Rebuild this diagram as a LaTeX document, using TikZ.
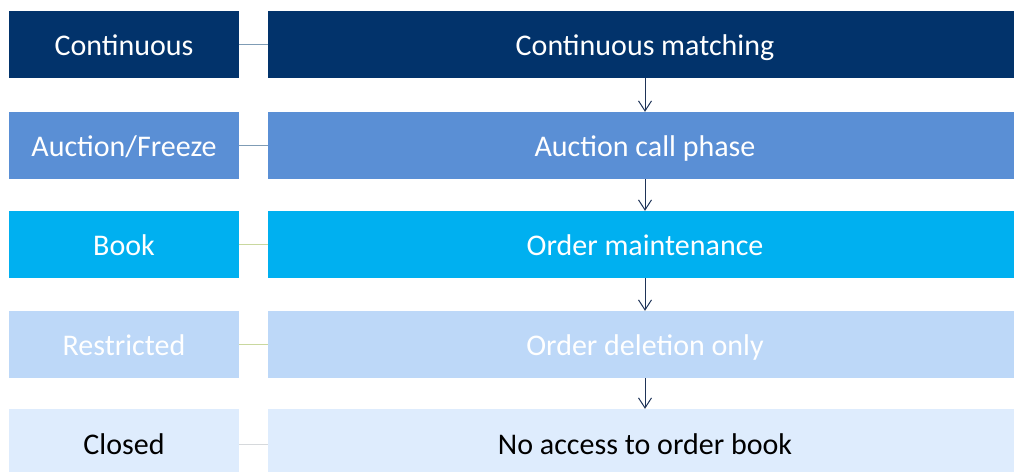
\documentclass[tikz,border=0pt]{standalone}
\usepackage{fontspec}
\setmainfont{Carlito}
\usetikzlibrary{arrows.meta}
\definecolor{cA}{HTML}{02336B}
\definecolor{cB}{HTML}{5A8FD5}
\definecolor{cC}{HTML}{00B0F0}
\definecolor{cD}{HTML}{BDD8F8}
\definecolor{cE}{HTML}{DEECFD}
\definecolor{lnA}{HTML}{7F9CB5}
\definecolor{lnB}{HTML}{C9D89E}
\definecolor{lnC}{HTML}{D6D9DC}
\definecolor{arr}{HTML}{1F3458}
\tikzset{
  lbox/.style={draw=none, minimum width=230pt, minimum height=67pt, inner sep=0pt, text height=21pt, text depth=0pt, font=\fontsize{30}{34}\selectfont},
  rbox/.style={draw=none, minimum width=754pt, minimum height=67pt, inner sep=0pt, text height=21pt, text depth=0pt, font=\fontsize{30}{34}\selectfont},
  link/.style={line width=1pt},
  flow/.style={draw=arr, line width=1pt, -{Straight Barb[length=10pt,width=13pt,line width=1pt]}}
}
\begin{document}
\begin{tikzpicture}[x=1pt,y=-1pt]
\useasboundingbox (0,0) rectangle (1014,471);
\clip (0,0) rectangle (1014,471);
\fill[white] (0,0) rectangle (1014,471);
% rows
\node[lbox, fill=cA, text=white] (l1) at (124,44.5) {Continuous};
\node[rbox, fill=cA, text=white] (r1) at (645,44.5) {Continuous matching};
\node[lbox, fill=cB, text=white] (l2) at (124,145.5) {Auction/Freeze};
\node[rbox, fill=cB, text=white] (r2) at (645,145.5) {Auction call phase};
\node[lbox, fill=cC, text=white] (l3) at (124,244.5) {Book};
\node[rbox, fill=cC, text=white] (r3) at (645,244.5) {Order maintenance};
\node[lbox, fill=cD, text=white] (l4) at (124,344.5) {Restricted};
\node[rbox, fill=cD, text=white] (r4) at (645,344.5) {Order deletion only};
\node[lbox, fill=cE, text=black, minimum height=70pt] (l5) at (124,444) {Closed};
\node[rbox, fill=cE, text=black, minimum height=70pt] (r5) at (645,444) {No access to order book};
% links
\draw[link, draw=lnA] (l1.east) -- (r1.west);
\draw[link, draw=lnA] (l2.east) -- (r2.west);
\draw[link, draw=lnB] (l3.east) -- (r3.west);
\draw[link, draw=lnB] (l4.east) -- (r4.west);
\draw[link, draw=lnC] (l5.east) -- (r5.west);
% arrows
\draw[flow] (r1.south) -- (r2.north);
\draw[flow] (r2.south) -- (r3.north);
\draw[flow] (r3.south) -- (r4.north);
\draw[flow] (r4.south) -- (r5.north);
\end{tikzpicture}
\end{document}
